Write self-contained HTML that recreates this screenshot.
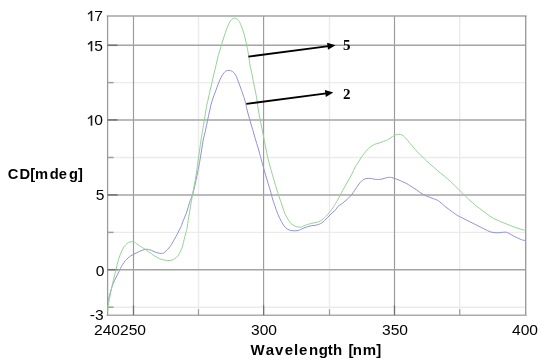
<!DOCTYPE html>
<html><head><meta charset="utf-8"><style>
html,body{margin:0;padding:0;background:#fff;}
body{width:550px;height:363px;position:relative;overflow:hidden;font-family:"Liberation Sans",sans-serif;}
.yl{position:absolute;right:447.2px;font-size:15.3px;line-height:15px;color:#000;text-align:right;white-space:nowrap;transform:scaleX(1.02);transform-origin:100% 50%;}
.xl{position:absolute;top:322.3px;font-size:15.3px;line-height:15px;color:#000;width:60px;text-align:center;transform:scaleX(1.02);}
.ch{position:absolute;font-weight:bold;line-height:15px;color:#000;white-space:nowrap;}
.lb{position:absolute;font-family:"Liberation Serif",serif;font-weight:bold;font-size:15px;line-height:15px;color:#000;}
svg{position:absolute;left:0;top:0;}
#wrap{position:absolute;left:0;top:0;width:550px;height:363px;filter:blur(0.3px);}
.h1{color:transparent;}
</style></head><body><div id="wrap">
<svg width="550" height="363" viewBox="0 0 550 363">
<line x1="198.5" y1="15.9" x2="198.5" y2="315.2" stroke="#ebebeb" stroke-width="1.4"/>
<line x1="329.5" y1="15.9" x2="329.5" y2="315.2" stroke="#ebebeb" stroke-width="1.4"/>
<line x1="459.7" y1="15.9" x2="459.7" y2="315.2" stroke="#ebebeb" stroke-width="1.4"/>
<line x1="107.6" y1="82.6" x2="525.7" y2="82.6" stroke="#ebebeb" stroke-width="1.4"/>
<line x1="107.6" y1="157.5" x2="525.7" y2="157.5" stroke="#ebebeb" stroke-width="1.4"/>
<line x1="107.6" y1="232.4" x2="525.7" y2="232.4" stroke="#ebebeb" stroke-width="1.4"/>
<line x1="107.6" y1="307.2" x2="525.7" y2="307.2" stroke="#ebebeb" stroke-width="1.4"/>
<line x1="133.5" y1="15.9" x2="133.5" y2="315.2" stroke="#9a9a9a" stroke-width="1.15"/>
<line x1="263.6" y1="15.9" x2="263.6" y2="315.2" stroke="#9a9a9a" stroke-width="1.15"/>
<line x1="394.5" y1="15.9" x2="394.5" y2="315.2" stroke="#9a9a9a" stroke-width="1.15"/>
<line x1="107.6" y1="45.3" x2="525.7" y2="45.3" stroke="#a4a4a4" stroke-width="1.5"/>
<line x1="107.6" y1="119.9" x2="525.7" y2="119.9" stroke="#a4a4a4" stroke-width="1.5"/>
<line x1="107.6" y1="194.9" x2="525.7" y2="194.9" stroke="#a4a4a4" stroke-width="1.5"/>
<line x1="107.6" y1="269.7" x2="525.7" y2="269.7" stroke="#a4a4a4" stroke-width="1.5"/>
<line x1="106.69999999999999" y1="15.9" x2="526.6" y2="15.9" stroke="#a4a4a4" stroke-width="1.5"/>
<line x1="106.69999999999999" y1="315.2" x2="526.6" y2="315.2" stroke="#ababab" stroke-width="1.45"/>
<line x1="107.6" y1="15.9" x2="107.6" y2="315.2" stroke="#9a9a9a" stroke-width="1.25"/>
<line x1="525.7" y1="15.9" x2="525.7" y2="315.2" stroke="#9a9a9a" stroke-width="1.3499999999999999"/>
<line x1="107.6" y1="45.3" x2="117.6" y2="45.3" stroke="#707070" stroke-width="1.5"/>
<line x1="107.6" y1="119.9" x2="117.6" y2="119.9" stroke="#707070" stroke-width="1.5"/>
<line x1="107.6" y1="194.9" x2="117.6" y2="194.9" stroke="#707070" stroke-width="1.5"/>
<line x1="107.6" y1="269.7" x2="117.6" y2="269.7" stroke="#707070" stroke-width="1.5"/>
<line x1="107.6" y1="82.6" x2="113.6" y2="82.6" stroke="#a0a0a0" stroke-width="1.5"/>
<line x1="107.6" y1="157.5" x2="113.6" y2="157.5" stroke="#a0a0a0" stroke-width="1.5"/>
<line x1="107.6" y1="232.4" x2="113.6" y2="232.4" stroke="#a0a0a0" stroke-width="1.5"/>
<line x1="107.6" y1="307.2" x2="113.6" y2="307.2" stroke="#a0a0a0" stroke-width="1.5"/>
<line x1="133.5" y1="315.2" x2="133.5" y2="305.2" stroke="#707070" stroke-width="1.25"/>
<line x1="263.6" y1="315.2" x2="263.6" y2="305.2" stroke="#707070" stroke-width="1.25"/>
<line x1="394.5" y1="315.2" x2="394.5" y2="305.2" stroke="#707070" stroke-width="1.25"/>
<line x1="198.5" y1="315.2" x2="198.5" y2="309.2" stroke="#a0a0a0" stroke-width="1.25"/>
<line x1="329.5" y1="315.2" x2="329.5" y2="309.2" stroke="#a0a0a0" stroke-width="1.25"/>
<line x1="459.7" y1="315.2" x2="459.7" y2="309.2" stroke="#a0a0a0" stroke-width="1.25"/>
<path d="M107.7 302.2 C107.9 301.6 108.3 300.0 108.7 298.4 C109.1 296.8 109.6 294.8 110.2 292.8 C110.8 290.8 111.4 288.7 112.1 286.6 C112.8 284.5 113.7 282.5 114.6 280.4 C115.5 278.3 116.8 276.1 117.7 274.2 C118.7 272.2 119.5 270.3 120.3 268.7 C121.1 267.1 121.7 266.0 122.5 264.7 C123.3 263.4 124.4 261.9 125.3 260.8 C126.2 259.7 127.1 258.8 128.0 258.0 C128.9 257.2 129.9 256.4 130.8 255.8 C131.7 255.2 132.6 254.8 133.6 254.3 C134.6 253.8 135.9 253.2 136.9 252.7 C137.9 252.2 138.8 251.6 139.7 251.2 C140.6 250.8 141.6 250.5 142.6 250.2 C143.6 249.9 144.6 249.4 145.5 249.3 C146.4 249.2 147.4 249.2 148.3 249.4 C149.2 249.6 150.2 249.8 151.2 250.2 C152.1 250.6 153.1 251.2 154.0 251.6 C154.9 252.0 155.9 252.4 156.9 252.7 C157.9 253.0 158.9 253.2 159.8 253.3 C160.8 253.4 161.8 253.5 162.6 253.3 C163.4 253.1 164.1 252.8 164.8 252.2 C165.5 251.6 166.2 250.7 166.9 250.0 C167.6 249.3 168.0 249.0 168.8 248.1 C169.6 247.2 170.7 245.8 171.6 244.3 C172.5 242.8 173.4 241.0 174.3 239.3 C175.2 237.7 176.3 236.0 177.1 234.4 C177.9 232.8 178.6 231.5 179.3 230.0 C180.0 228.5 180.9 227.0 181.5 225.6 C182.1 224.2 181.9 223.9 182.8 221.7 C183.7 219.4 185.6 215.3 186.7 212.1 C187.8 208.9 188.6 205.3 189.6 202.4 C190.6 199.5 191.5 197.9 192.5 194.7 C193.5 191.5 194.5 187.3 195.4 183.1 C196.3 178.9 197.4 173.4 198.2 169.6 C199.0 165.8 199.4 163.3 200.0 160.0 C200.6 156.7 201.1 153.3 201.6 150.0 C202.1 146.7 202.6 143.1 203.2 140.0 C203.8 136.9 204.6 134.6 205.3 131.3 C206.0 128.0 206.9 123.5 207.6 120.1 C208.3 116.7 209.0 113.7 209.6 111.0 C210.2 108.3 210.7 105.8 211.2 104.0 C211.7 102.2 211.9 101.4 212.4 100.0 C212.9 98.6 213.3 97.3 213.9 95.7 C214.5 94.1 215.2 92.1 215.9 90.3 C216.6 88.5 217.2 86.5 217.9 84.8 C218.6 83.1 219.2 81.4 219.9 79.9 C220.6 78.4 221.2 77.1 221.9 75.9 C222.6 74.7 223.2 73.7 223.9 72.9 C224.6 72.1 225.2 71.5 225.8 71.1 C226.5 70.7 227.1 70.6 227.8 70.5 C228.5 70.4 229.1 70.4 229.8 70.5 C230.5 70.6 231.1 70.7 231.8 71.1 C232.5 71.5 233.1 72.0 233.8 72.7 C234.5 73.4 235.2 74.2 235.8 75.4 C236.5 76.6 237.0 78.2 237.7 79.9 C238.3 81.6 239.0 83.5 239.7 85.3 C240.4 87.1 241.0 88.9 241.7 90.8 C242.4 92.7 243.1 94.9 243.7 96.7 C244.3 98.5 244.6 99.3 245.2 101.5 C245.8 103.7 246.3 106.9 247.1 110.0 C247.9 113.1 248.9 116.7 249.8 119.9 C250.7 123.1 251.7 126.1 252.6 129.3 C253.5 132.5 254.4 135.8 255.3 138.9 C256.2 142.0 257.3 145.1 258.1 147.9 C258.9 150.7 259.6 153.5 260.2 155.5 C260.8 157.5 260.8 158.0 261.4 160.0 C261.9 162.0 262.8 165.1 263.5 167.7 C264.2 170.3 265.0 172.9 265.7 175.4 C266.4 177.9 267.2 180.2 267.9 182.6 C268.6 185.0 269.5 187.7 270.1 189.8 C270.7 191.9 271.0 193.3 271.5 195.0 C272.0 196.7 272.4 198.5 272.9 200.0 C273.3 201.5 273.6 202.1 274.2 203.8 C274.8 205.5 275.7 208.4 276.4 210.4 C277.1 212.4 277.8 214.1 278.6 215.9 C279.4 217.8 280.5 219.8 281.4 221.5 C282.3 223.2 283.1 224.6 284.1 225.9 C285.1 227.2 286.2 228.4 287.4 229.2 C288.6 230.0 290.0 230.2 291.3 230.5 C292.6 230.8 294.0 230.8 295.2 230.8 C296.4 230.8 297.6 230.5 298.5 230.3 C299.4 230.1 299.6 230.0 300.5 229.6 C301.4 229.2 302.5 228.6 303.7 228.1 C304.9 227.6 306.2 227.1 307.5 226.7 C308.8 226.3 309.9 226.0 311.2 225.8 C312.4 225.6 313.8 225.5 315.0 225.3 C316.2 225.1 317.6 224.8 318.7 224.4 C319.8 224.0 320.7 223.6 321.6 223.0 C322.6 222.4 323.5 221.5 324.4 220.6 C325.3 219.7 326.3 218.7 327.2 217.8 C328.1 216.9 329.1 215.9 330.0 215.0 C330.9 214.1 331.8 213.1 332.8 212.2 C333.8 211.3 335.2 210.3 336.0 209.4 C336.8 208.5 336.7 207.7 337.6 206.8 C338.5 205.9 340.1 205.0 341.3 204.1 C342.5 203.2 343.7 202.3 344.9 201.3 C346.1 200.3 347.4 199.2 348.5 198.1 C349.6 197.0 350.6 196.0 351.6 194.7 C352.6 193.4 353.5 192.0 354.6 190.4 C355.7 188.8 357.0 186.6 358.2 185.0 C359.4 183.4 360.7 181.8 361.9 180.7 C363.1 179.6 364.4 179.1 365.5 178.7 C366.6 178.3 367.5 178.4 368.5 178.4 C369.5 178.4 370.4 178.3 371.5 178.5 C372.6 178.7 373.9 179.2 375.1 179.3 C376.3 179.5 377.4 179.4 378.6 179.4 C379.8 179.4 380.9 179.3 382.1 179.1 C383.3 178.8 384.5 178.2 385.7 177.9 C386.9 177.6 388.2 177.4 389.2 177.3 C390.2 177.2 390.9 177.3 391.8 177.5 C392.7 177.7 393.5 178.0 394.5 178.4 C395.5 178.8 396.8 179.2 398.0 179.7 C399.2 180.2 400.3 180.7 401.5 181.2 C402.7 181.7 403.9 182.2 405.1 182.8 C406.3 183.4 407.4 184.0 408.6 184.7 C409.8 185.4 410.9 186.2 412.1 187.0 C413.3 187.8 414.8 188.7 416.0 189.5 C417.2 190.3 418.3 191.3 419.5 192.1 C420.7 192.9 421.9 193.7 423.1 194.4 C424.3 195.1 425.4 195.6 426.6 196.1 C427.8 196.6 428.9 196.9 430.1 197.4 C431.3 197.9 432.5 198.4 433.7 198.8 C434.9 199.2 436.2 199.6 437.2 200.1 C438.2 200.6 438.9 201.2 439.8 201.9 C440.7 202.6 441.5 203.2 442.5 204.1 C443.5 205.0 444.8 206.2 446.0 207.2 C447.2 208.1 448.4 209.0 449.5 209.8 C450.6 210.6 451.5 211.3 452.5 212.0 C453.5 212.7 454.4 213.5 455.5 214.2 C456.6 214.9 457.9 215.8 459.1 216.4 C460.3 217.1 461.4 217.5 462.6 218.1 C463.8 218.7 464.9 219.3 466.1 219.9 C467.3 220.5 468.5 221.1 469.7 221.7 C470.9 222.3 472.0 222.8 473.2 223.4 C474.4 224.0 475.5 224.6 476.7 225.2 C477.9 225.8 479.0 226.4 480.2 227.0 C481.4 227.6 482.6 228.1 483.8 228.7 C485.0 229.3 486.1 229.9 487.3 230.5 C488.5 231.1 489.7 231.7 490.8 232.0 C491.9 232.3 493.1 232.5 494.2 232.6 C495.3 232.7 496.2 232.8 497.3 232.8 C498.4 232.8 499.5 232.7 500.6 232.6 C501.7 232.5 502.9 232.2 503.9 232.2 C504.9 232.1 505.6 232.1 506.4 232.3 C507.2 232.5 508.1 233.0 508.9 233.4 C509.7 233.8 510.6 234.4 511.4 234.8 C512.2 235.2 513.0 235.7 513.8 236.1 C514.6 236.5 515.5 237.0 516.3 237.4 C517.1 237.8 518.0 238.1 518.8 238.5 C519.6 238.9 520.5 239.3 521.3 239.6 C522.1 239.9 523.1 240.2 523.8 240.3 C524.5 240.4 525.3 240.4 525.6 240.4" fill="none" stroke="#9090da" stroke-width="1.0"/>
<path d="M107.7 311.5 C107.8 310.5 108.0 307.5 108.3 305.3 C108.6 303.1 109.2 300.7 109.6 298.4 C110.0 296.1 110.3 294.2 110.8 291.6 C111.3 289.0 112.1 285.6 112.7 282.9 C113.3 280.2 114.0 278.0 114.6 275.5 C115.2 273.0 115.8 270.4 116.4 268.0 C117.0 265.6 117.5 262.8 118.1 260.8 C118.7 258.8 119.1 257.6 119.8 255.8 C120.5 254.1 121.3 251.9 122.0 250.3 C122.7 248.8 123.4 247.6 124.2 246.5 C125.0 245.4 126.0 244.2 126.9 243.5 C127.8 242.8 128.8 242.4 129.7 242.1 C130.6 241.8 131.7 241.7 132.5 241.7 C133.3 241.7 133.9 241.8 134.6 242.2 C135.3 242.6 136.1 243.5 136.9 244.1 C137.8 244.7 138.8 245.3 139.7 245.9 C140.6 246.5 141.6 247.1 142.6 247.7 C143.6 248.3 144.6 248.8 145.5 249.5 C146.4 250.2 147.4 250.9 148.3 251.6 C149.2 252.2 150.2 252.8 151.2 253.4 C152.1 254.1 153.1 254.8 154.0 255.5 C154.9 256.1 155.9 256.8 156.9 257.3 C157.9 257.9 158.9 258.4 159.8 258.8 C160.8 259.2 161.6 259.4 162.6 259.6 C163.6 259.9 164.7 260.2 165.8 260.3 C166.9 260.4 168.0 260.6 169.0 260.5 C170.0 260.4 171.0 260.3 172.0 260.0 C173.0 259.7 173.8 259.3 174.8 258.6 C175.8 257.9 176.9 257.2 177.8 256.0 C178.7 254.8 179.6 253.1 180.4 251.4 C181.2 249.7 182.0 247.9 182.6 245.9 C183.2 243.9 183.6 241.5 184.2 239.3 C184.8 237.1 185.4 234.5 185.9 232.7 C186.4 230.9 186.6 230.8 187.0 228.3 C187.4 225.8 188.0 221.5 188.6 217.8 C189.2 214.1 189.8 210.2 190.5 206.3 C191.2 202.5 191.8 198.9 192.5 194.7 C193.2 190.5 194.3 185.4 195.0 181.2 C195.7 177.0 196.4 173.1 196.9 169.6 C197.4 166.1 197.5 164.9 198.2 160.0 C198.9 155.1 200.3 144.9 201.0 140.0 C201.7 135.1 202.0 133.8 202.6 130.5 C203.2 127.2 203.7 124.1 204.3 120.1 C205.0 116.1 205.9 109.9 206.5 106.6 C207.1 103.2 207.4 102.6 208.0 100.0 C208.6 97.4 209.3 93.7 210.0 90.8 C210.7 87.9 211.3 85.2 212.0 82.4 C212.7 79.6 213.2 76.9 213.9 73.9 C214.6 70.9 215.5 67.6 216.2 64.5 C216.9 61.4 217.4 58.7 218.3 55.5 C219.2 52.3 220.5 48.3 221.4 45.2 C222.3 42.1 223.1 39.7 224.0 36.9 C224.9 34.1 225.9 30.8 226.9 28.3 C227.9 25.8 228.9 23.5 229.8 21.9 C230.8 20.3 231.8 19.3 232.6 18.7 C233.4 18.1 234.1 18.1 234.8 18.2 C235.5 18.2 236.1 18.3 236.9 19.0 C237.7 19.7 238.8 20.8 239.8 22.6 C240.8 24.4 241.9 27.4 242.7 29.8 C243.5 32.2 244.1 34.3 244.8 36.9 C245.5 39.5 246.1 42.3 246.7 45.2 C247.3 48.1 247.8 50.6 248.4 54.1 C249.0 57.6 249.6 62.9 250.2 66.2 C250.8 69.5 251.4 71.4 251.9 73.8 C252.4 76.2 252.8 78.4 253.2 80.7 C253.6 83.0 254.1 85.2 254.6 87.5 C255.1 89.8 255.6 92.1 256.0 94.4 C256.4 96.7 256.8 98.7 257.2 101.3 C257.6 103.9 257.8 106.9 258.3 110.0 C258.8 113.1 259.6 116.9 260.2 119.9 C260.8 122.9 261.2 125.1 261.8 127.9 C262.4 130.8 263.0 134.0 263.6 137.0 C264.2 140.0 264.8 143.0 265.4 145.8 C266.0 148.7 266.5 151.7 267.0 154.1 C267.5 156.5 267.8 157.9 268.3 160.0 C268.8 162.1 269.4 164.2 270.1 166.6 C270.8 169.0 271.6 171.7 272.3 174.3 C273.0 176.9 273.8 179.5 274.5 182.0 C275.2 184.5 276.0 187.0 276.7 189.2 C277.4 191.4 277.8 192.9 278.5 195.0 C279.2 197.1 280.1 199.4 280.8 201.6 C281.6 203.8 282.3 206.1 283.0 208.2 C283.7 210.3 284.4 212.5 285.2 214.3 C286.0 216.2 287.0 217.7 288.0 219.3 C289.0 220.9 290.1 222.5 291.3 223.7 C292.5 224.8 294.0 225.6 295.2 226.2 C296.4 226.8 297.4 226.9 298.5 227.0 C299.6 227.1 300.6 227.1 301.5 226.9 C302.4 226.7 302.7 226.2 303.7 225.8 C304.7 225.4 306.2 225.0 307.5 224.6 C308.8 224.2 309.9 223.7 311.2 223.4 C312.4 223.1 313.8 223.0 315.0 222.7 C316.2 222.4 317.6 222.1 318.7 221.7 C319.8 221.3 320.7 220.8 321.6 220.1 C322.6 219.4 323.5 218.7 324.4 217.8 C325.3 217.0 326.3 216.0 327.2 215.0 C328.1 214.0 329.1 212.9 330.0 211.7 C330.9 210.5 331.9 209.4 332.8 208.0 C333.7 206.6 334.7 204.8 335.5 203.5 C336.3 202.2 336.7 201.6 337.5 200.2 C338.3 198.8 339.2 197.0 340.1 195.3 C341.0 193.6 342.1 191.6 343.1 189.8 C344.1 188.0 345.1 186.2 346.1 184.4 C347.1 182.6 348.2 180.7 349.2 178.9 C350.2 177.1 351.2 175.4 352.2 173.5 C353.2 171.6 354.0 169.0 355.0 167.2 C356.0 165.4 357.1 164.1 358.1 162.5 C359.1 160.9 360.1 159.2 361.1 157.7 C362.1 156.2 363.1 154.8 364.1 153.5 C365.1 152.2 366.2 150.9 367.2 149.8 C368.2 148.8 369.2 148.0 370.2 147.2 C371.2 146.4 372.2 145.6 373.2 145.0 C374.2 144.4 375.1 144.2 376.2 143.8 C377.3 143.4 378.7 143.2 379.9 142.8 C381.1 142.4 382.4 141.7 383.5 141.3 C384.6 140.9 385.7 140.6 386.5 140.3 C387.3 140.0 387.7 139.8 388.5 139.3 C389.3 138.8 390.2 138.1 391.1 137.5 C392.0 136.9 393.1 136.0 394.1 135.5 C395.1 135.0 396.1 134.7 397.1 134.5 C398.1 134.3 399.2 134.2 400.2 134.4 C401.2 134.6 402.2 135.0 403.2 135.7 C404.2 136.4 405.2 137.6 406.2 138.7 C407.2 139.8 408.2 141.2 409.2 142.4 C410.2 143.6 411.3 144.8 412.3 146.0 C413.3 147.2 414.3 148.4 415.3 149.6 C416.3 150.8 417.4 151.9 418.3 152.9 C419.2 153.9 420.2 154.9 421.0 155.7 C421.8 156.5 422.2 156.6 423.1 157.5 C424.0 158.4 425.4 159.9 426.6 161.0 C427.8 162.1 428.9 163.1 430.1 164.1 C431.3 165.1 432.5 166.2 433.7 167.2 C434.9 168.2 436.0 169.3 437.2 170.3 C438.4 171.3 439.5 172.2 440.7 173.1 C441.9 174.0 443.0 175.0 444.2 176.0 C445.4 177.0 446.6 178.1 447.8 179.1 C449.0 180.1 450.1 181.1 451.3 182.2 C452.5 183.3 453.6 184.3 454.8 185.5 C456.0 186.7 457.2 187.9 458.4 189.1 C459.6 190.3 460.8 191.3 461.9 192.5 C463.0 193.7 464.1 194.8 465.3 196.0 C466.5 197.2 467.6 198.4 468.8 199.5 C470.0 200.6 471.2 201.6 472.4 202.6 C473.6 203.6 474.7 204.8 475.9 205.7 C477.1 206.6 478.2 207.4 479.4 208.3 C480.6 209.2 481.7 210.1 482.9 211.0 C484.1 211.9 485.3 212.7 486.5 213.6 C487.7 214.5 488.8 215.5 490.0 216.3 C491.2 217.1 492.3 217.8 493.5 218.4 C494.7 219.0 496.0 219.6 497.2 220.1 C498.4 220.6 499.5 221.1 500.6 221.6 C501.7 222.1 502.8 222.4 503.9 222.9 C505.0 223.4 506.1 223.9 507.2 224.3 C508.3 224.8 509.4 225.2 510.5 225.6 C511.6 226.0 512.7 226.4 513.8 226.8 C514.9 227.2 516.0 227.6 517.1 228.0 C518.2 228.4 519.3 228.8 520.4 229.1 C521.5 229.4 522.9 229.9 523.8 230.1 C524.7 230.3 525.3 230.4 525.6 230.5" fill="none" stroke="#94d194" stroke-width="1.0"/>
<line x1="248.4" y1="56.6" x2="328.6" y2="46.1" stroke="#000" stroke-width="1.85"/><polygon points="335.5,45.2 328.0,49.8 327.1,42.7" fill="#000"/>
<line x1="246.3" y1="103.9" x2="326.4" y2="93.4" stroke="#000" stroke-width="1.85"/><polygon points="333.3,92.5 325.8,97.1 324.9,90.0" fill="#000"/>
<path d="M91.5 10.80 V21.10" stroke="#1a1a1a" stroke-width="1.6" fill="none"/><path d="M91.6 11.40 L88.0 14.20" stroke="#1a1a1a" stroke-width="1.4" fill="none"/>
<path d="M91.5 41.00 V51.30" stroke="#1a1a1a" stroke-width="1.6" fill="none"/><path d="M91.6 41.60 L88.0 44.40" stroke="#1a1a1a" stroke-width="1.4" fill="none"/>
<path d="M91.5 115.40 V125.70" stroke="#1a1a1a" stroke-width="1.6" fill="none"/><path d="M91.6 116.00 L88.0 118.80" stroke="#1a1a1a" stroke-width="1.4" fill="none"/>
</svg>
<div class="yl" style="top:8.2px"><span class="h1">1</span>7</div>
<div class="yl" style="top:37.8px"><span class="h1">1</span>5</div>
<div class="yl" style="top:112.3px"><span class="h1">1</span>0</div>
<div class="yl" style="top:187.2px;right:445.9px">5</div>
<div class="yl" style="top:262.7px;right:445.9px">0</div>
<div class="yl" style="top:307.3px;right:446px">-3</div>
<div class="xl" style="left:77.2px">240</div>
<div class="xl" style="left:103.2px">250</div>
<div class="xl" style="left:233.8px">300</div>
<div class="xl" style="left:364.6px">350</div>
<div class="xl" style="left:495.2px">400</div>
<span class="ch" style="left:7.70px;top:167px;font-size:14.7px">C</span><span class="ch" style="left:19.41px;top:167px;font-size:14.7px">D</span><span class="ch" style="left:30.31px;top:167px;font-size:14.7px">[</span><span class="ch" style="left:34.95px;top:167px;font-size:14.7px">m</span><span class="ch" style="left:49.76px;top:167px;font-size:14.7px">d</span><span class="ch" style="left:58.63px;top:167px;font-size:14.7px">e</span><span class="ch" style="left:69.04px;top:167px;font-size:14.7px">g</span><span class="ch" style="left:78.03px;top:167px;font-size:14.7px">]</span>
<span class="ch" style="left:250.50px;top:341.6px;font-size:15px">W</span><span class="ch" style="left:265.64px;top:341.6px;font-size:15px">a</span><span class="ch" style="left:274.98px;top:341.6px;font-size:15px">v</span><span class="ch" style="left:284.67px;top:341.6px;font-size:15px">e</span><span class="ch" style="left:293.96px;top:341.6px;font-size:15px">l</span><span class="ch" style="left:299.08px;top:341.6px;font-size:15px">e</span><span class="ch" style="left:309.04px;top:341.6px;font-size:15px">n</span><span class="ch" style="left:318.64px;top:341.6px;font-size:15px">g</span><span class="ch" style="left:327.81px;top:341.6px;font-size:15px">t</span><span class="ch" style="left:333.01px;top:341.6px;font-size:15px">h</span><span class="ch" style="left:348.53px;top:341.6px;font-size:15px">[</span><span class="ch" style="left:352.78px;top:341.6px;font-size:15px">n</span><span class="ch" style="left:362.79px;top:341.6px;font-size:15px">m</span><span class="ch" style="left:376.32px;top:341.6px;font-size:15px">]</span>
<div class="lb" style="left:343px;top:37.5px">5</div>
<div class="lb" style="left:343px;top:87px">2</div>
</div></body></html>
